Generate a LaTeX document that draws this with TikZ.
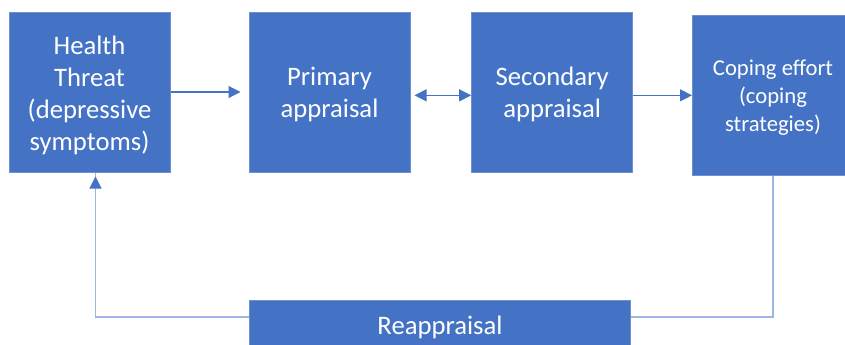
\documentclass[tikz,border=0pt]{standalone}
\usepackage{fontspec}
\setmainfont{Carlito}
\usetikzlibrary{positioning,arrows.meta}
\definecolor{boxblue}{HTML}{4472C4}
\definecolor{edgeblue}{HTML}{6F8FD0}
\definecolor{loopblue}{HTML}{9FB6E2}
\begin{document}
\begin{tikzpicture}[
	x=0.75pt, y=-0.75pt,
	stage/.style={rectangle,draw=edgeblue,fill=boxblue,text=white,line width=0.75pt,
	  minimum width=120.75pt,minimum height=120pt,align=center,inner sep=2pt,
	  font=\fontsize{20}{24}\selectfont},
	link/.style={draw=boxblue,line width=0.9pt,-{Triangle[length=9pt,width=9pt]}},
	loopline/.style={draw=loopblue,line width=1.1pt},
	]
\useasboundingbox (0,0) rectangle (845,344);
\node [stage] (health) at (89.5,92) {\rule{0pt}{19pt}Health\\Threat\\(depressive\\symptoms)};
\node [stage,right=58.5pt of health] (primary) {\rule{0pt}{17pt}Primary\\appraisal};
\node [stage,right=45.5pt of primary] (secondary) {\rule{0pt}{17pt}Secondary\\appraisal};
\node [stage,font=\fontsize{17}{21}\selectfont] (coping) at (773,95) {\rule{0pt}{15pt}Coping effort\\(coping\\strategies)};
\node [stage,minimum width=285.75pt,minimum height=37.5pt] (reappraisal) at (440,325) {\rule{0pt}{18pt}Reappraisal};
% arrows between the stages
\draw [link,shorten >=6pt] (health) -- (primary);
\draw [link,{Triangle[length=9pt,width=9pt]}-{Triangle[length=9pt,width=9pt]},shorten <=3pt]
  ([yshift=-2.5pt]primary.east) -- ([yshift=-2.5pt]secondary.west);
\draw [link] ([yshift=-2.5pt]secondary.east) -- ([yshift=-2.5pt]secondary.east -| coping.west);
% feedback loop
\draw [loopline] (coping.south) |- ([yshift=6pt]reappraisal.east);
\draw [loopline] ([yshift=6pt]reappraisal.west) -| ([xshift=4.5pt]health.south);
\draw [link,draw=loopblue,-{Triangle[length=9pt,width=9pt,color=boxblue]},shorten >=3pt]
  ([xshift=4.5pt,yshift=-60pt]health.south) -- ([xshift=4.5pt]health.south);
\end{tikzpicture}
\end{document}
